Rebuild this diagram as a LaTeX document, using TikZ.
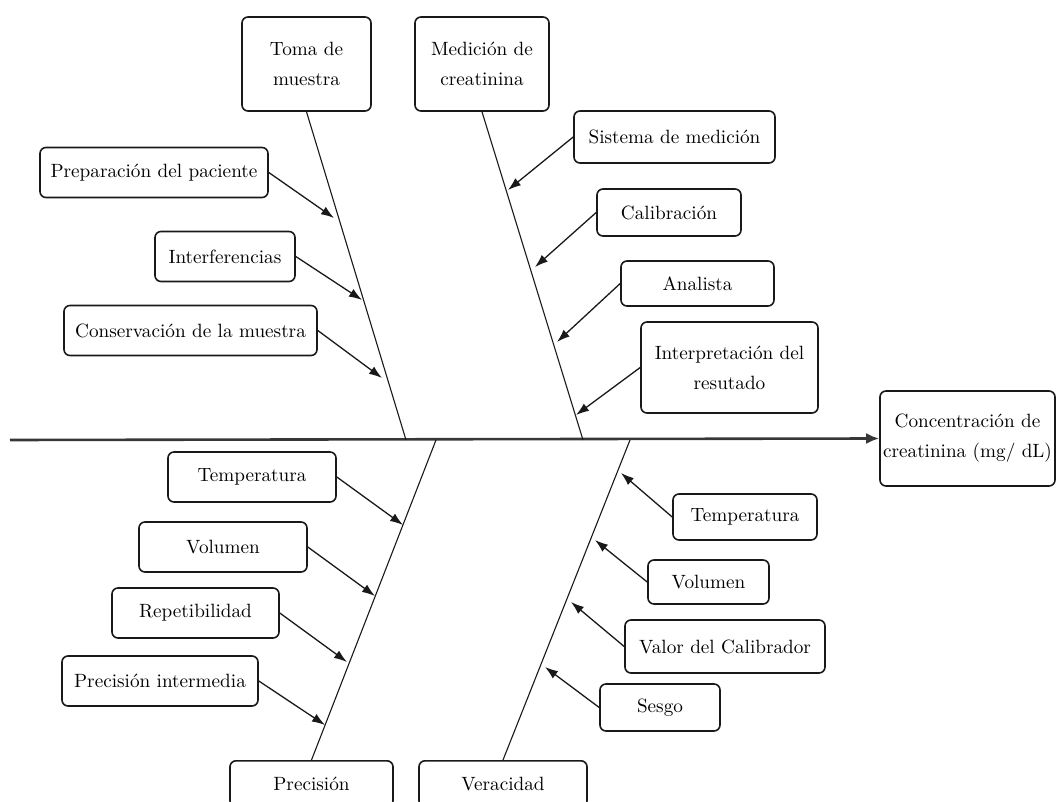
\documentclass[tikz,border=0pt]{standalone}
\usepackage{tikz}
\usetikzlibrary{arrows,arrows.meta}
\usetikzlibrary{calc}
\definecolor{linie}{RGB}{25,25,25}
\definecolor{achse}{RGB}{55,55,55}

\begin{document}
\begin{tikzpicture}[x=0.5pt,y=-0.5pt,
	kasten/.style={draw=linie,line width=0.8pt,rounded corners=3pt,align=center,inner sep=0pt,minimum height=25pt,font=\fontsize{9.6}{15}\selectfont},
	ast/.style={linie,line width=0.55pt},
	zweig/.style={linie,line width=0.65pt,-{Latex[length=6.5pt,width=4.5pt]}}] % Ishikawa
	\useasboundingbox (0,0) rectangle (1056,802);
	% Hauptkategorien
	\node[kasten,minimum width=64.5pt,minimum height=47pt] (T) at (306.5,64) {Toma de\\muestra};
	\node[kasten,minimum width=67pt,minimum height=47pt] (M) at (482,64) {Medición de\\creatinina};
	\node[kasten,minimum width=81.5pt,minimum height=23pt,anchor=north] (P) at (311.5,760) {Precisión};
	\node[kasten,minimum width=84pt,minimum height=23pt,anchor=north] (V) at (503,760) {Veracidad};
	\node[kasten,minimum width=87.5pt,minimum height=47.5pt] (E) at (967.5,438.5) {Concentración de\\creatinina (mg/ dL)};
	% Hauptachse
	\coordinate (A) at (10,440);
	\draw[achse,line width=1.3pt,-{Latex[length=6.5pt,width=5.5pt]}] (A) -- (E.west);
	\coordinate (s1) at (406,440);
	\coordinate (s2) at (583,440);
	\coordinate (s3) at (436,440);
	\coordinate (s4) at (630,440);
	\draw[ast] (T.south) -- (s1);
	\draw[ast] (M.south) -- (s2);
	\draw[ast] (P.north) -- (s3);
	\draw[ast] (V.north) -- (s4);
	% Toma de muestra
	\node[kasten,minimum width=114pt] (T1) at (154,172.5) {Preparación del paciente};
	\node[kasten,minimum width=70pt] (T2) at (225,256.5) {Interferencias};
	\node[kasten,minimum width=126.5pt] (T3) at (190.5,330.5) {Conservación de la muestra};
	\coordinate (t1) at (334,218);
	\coordinate (t2) at (362,300);
	\coordinate (t3) at (382,378);
	\draw[zweig] (T1.east) -- (t1);
	\draw[zweig] (T2.east) -- (t2);
	\draw[zweig] (T3.east) -- (t3);
	% Medicion
	\node[kasten,minimum width=100.5pt,minimum height=26pt] (M1) at (674.5,137) {Sistema de medición};
	\node[kasten,minimum width=72pt,minimum height=23.5pt] (M2) at (669,212.5) {Calibración};
	\node[kasten,minimum width=76.5pt,minimum height=22.5pt] (M3) at (697.5,283.5) {Analista};
	\node[kasten,minimum width=88.5pt,minimum height=45.5pt] (M4) at (729.5,367.5) {Interpretación del\\resutado};
	\coordinate (m1) at (508,190);
	\coordinate (m2) at (535,267);
	\coordinate (m3) at (557,342);
	\coordinate (m4) at (576,415);
	\draw[zweig] (M1.west) -- (m1);
	\draw[zweig] (M2.west) -- (m2);
	\draw[zweig] (M3.west) -- (m3);
	\draw[zweig] (M4.west) -- (m4);
	% Precision
	\node[kasten,minimum width=84pt] (P1) at (252,477) {Temperatura};
	\node[kasten,minimum width=84pt] (P2) at (223,547) {Volumen};
	\node[kasten,minimum width=83.5pt] (P3) at (195.5,613) {Repetibilidad};
	\node[kasten,minimum width=98pt] (P4) at (160,681) {Precisión intermedia};
	\coordinate (p1) at (403,525);
	\coordinate (p2) at (375,596);
	\coordinate (p3) at (347,662);
	\coordinate (p4) at (325,725);
	\draw[zweig] (P1.east) -- (p1);
	\draw[zweig] (P2.east) -- (p2);
	\draw[zweig] (P3.east) -- (p3);
	\draw[zweig] (P4.east) -- (p4);
	% Veracidad
	\node[kasten,minimum width=72pt,minimum height=23pt] (V1) at (745,517) {Temperatura};
	\node[kasten,minimum width=60.5pt,minimum height=22pt] (V2) at (708.5,582) {Volumen};
	\node[kasten,minimum width=100pt,minimum height=26.5pt] (V3) at (725,646.5) {Valor del Calibrador};
	\node[kasten,minimum width=60pt,minimum height=23.5pt] (V4) at (660,707.5) {Sesgo};
	\coordinate (v1) at (621,473);
	\coordinate (v2) at (595,540);
	\coordinate (v3) at (571,602);
	\coordinate (v4) at (545,667);
	\draw[zweig] (V1.west) -- (v1);
	\draw[zweig] (V2.west) -- (v2);
	\draw[zweig] (V3.west) -- (v3);
	\draw[zweig] (V4.west) -- (v4);
\end{tikzpicture}
\end{document}
